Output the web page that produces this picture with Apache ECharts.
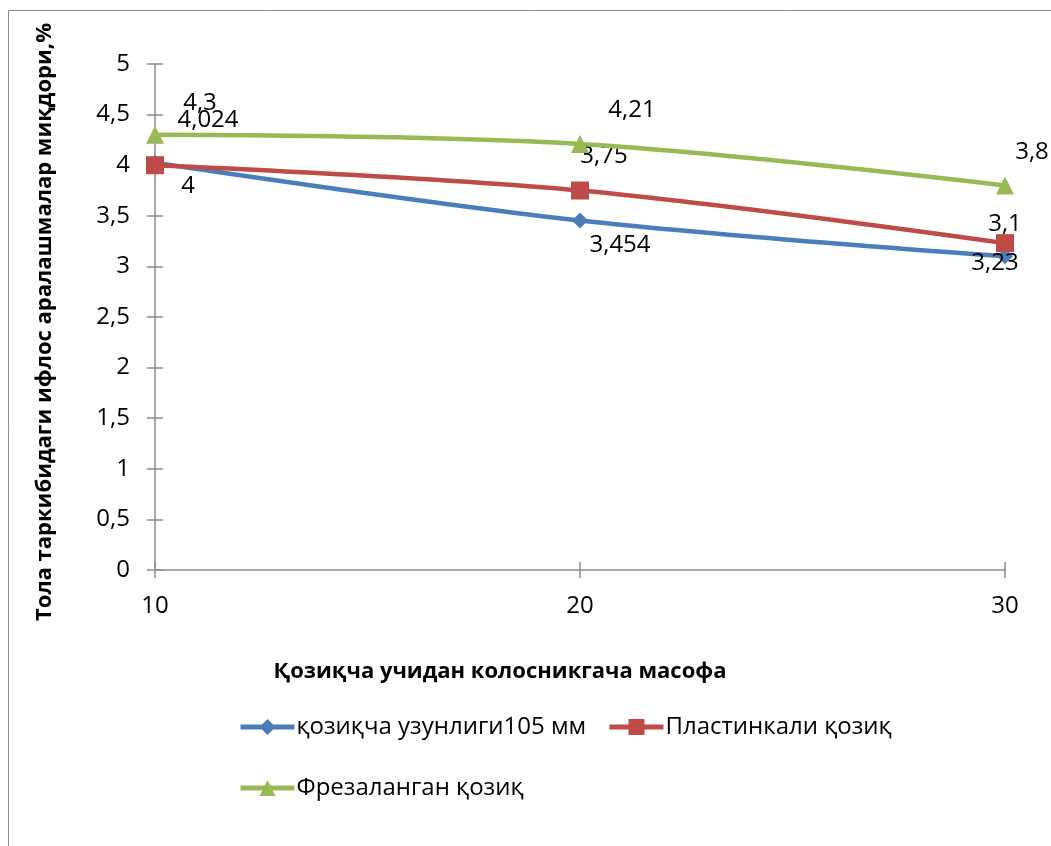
<!DOCTYPE html>
<html><head><meta charset="utf-8">
<script src="https://cdn.jsdelivr.net/npm/echarts@6/dist/echarts.min.js"></script>
<style>html,body{margin:0;padding:0;background:#fff}#c{width:1051px;height:846px}</style>
</head><body><div id="c"></div>
<script>
const xValues = [10, 20, 30];
const seriesNames = ['қозиқча узунлиги105 мм', 'Пластинкали қозиқ', 'Фрезаланган қозиқ'];
const blueVals = [4.024, 3.454, 3.1];
const redVals = [4, 3.75, 3.23];
const greenVals = [4.3, 4.21, 3.8];
const xTitle = 'Қозиқча учидан колосникгача масофа';
const yTitle = 'Тола таркибидаги ифлос аралашмалар миқдори,%';

const FONT = '"Open Sans", "Liberation Sans", sans-serif';
const colors = ['#4A7EBB', '#BE4B48', '#98B954'];
const symbols = ['diamond', 'rect', 'triangle'];
const symbolSizes = [16, 18, 18];
// label offsets relative to the point (manually placed in the source chart)
const labelOffsets = [
  [[53, -43], [40, 25], [0, -32]],
  [[33, 21], [24, -34], [-10, 20]],
  [[45, -32], [52, -34], [27, -33]]
];
const allVals = [blueVals, redVals, greenVals];
const fmt = v => String(v).replace('.', ',');

const series = allVals.map((vals, si) => ({
  name: seriesNames[si],
  type: 'line',
  smooth: 0.35,
  data: vals.map((v, i) => ({
    value: [xValues[i], v],
    label: {offset: labelOffsets[si][i]}
  })),
  symbol: symbols[si],
  symbolSize: symbolSizes[si],
  lineStyle: {width: 4.5, color: colors[si]},
  itemStyle: {color: colors[si]},
  label: {
    show: true, position: 'inside', color: '#000', fontSize: 24, fontFamily: FONT,
    formatter: p => fmt(p.value[1])
  },
  z: 3 + si
}));

const chart = echarts.init(document.getElementById('c'));
const legendBase = {
  orient: 'horizontal', itemWidth: 54, itemHeight: 20, itemGap: 10, padding: 0,
  lineStyle: {width: 5},
  textStyle: {fontSize: 24, fontFamily: FONT, color: '#000', padding: [0, 0, 0, -3]}
};
chart.setOption({
  backgroundColor: '#fff',
  animation: false,
  grid: {left: 155, right: 46, top: 64, bottom: 276, containLabel: false},
  legend: [
    Object.assign({}, legendBase, {left: 238, top: 715, data: [seriesNames[0]]}),
    Object.assign({}, legendBase, {left: 607, top: 715, data: [seriesNames[1]]}),
    Object.assign({}, legendBase, {left: 238, top: 776, data: [seriesNames[2]]})
  ],
  xAxis: [{
    type: 'value', min: 10, max: 30, interval: 10,
    axisLine: {show: true, lineStyle: {color: '#8c8c8c', width: 1.5}},
    axisTick: {show: true, length: 8, lineStyle: {color: '#8c8c8c', width: 1.5}},
    axisLabel: {fontSize: 24, fontFamily: FONT, color: '#000', margin: 24},
    splitLine: {show: false}
  }, {
    type: 'value', min: 10, max: 30, interval: 10, position: 'bottom',
    axisLine: {show: false},
    axisTick: {show: true, inside: true, length: 8, lineStyle: {color: '#8c8c8c', width: 1.5}},
    axisLabel: {show: false}, splitLine: {show: false}
  }],
  yAxis: [{
    type: 'value', min: 0, max: 5, interval: 0.5,
    axisLine: {show: true, lineStyle: {color: '#8c8c8c', width: 1.5}},
    axisTick: {show: true, length: 8, lineStyle: {color: '#8c8c8c', width: 1.5}},
    axisLabel: {fontSize: 24, fontFamily: FONT, color: '#000', margin: 25, formatter: v => fmt(v)},
    splitLine: {show: false}
  }, {
    type: 'value', min: 0, max: 5, interval: 0.5, position: 'left',
    axisLine: {show: false},
    axisTick: {show: true, inside: true, length: 8, lineStyle: {color: '#8c8c8c', width: 1.5}},
    axisLabel: {show: false}, splitLine: {show: false}
  }],
  graphic: [
    {type: 'rect', shape: {x: 8.5, y: 10.5, width: 1200, height: 1000}, style: {fill: 'none', stroke: '#8c8c8c', lineWidth: 1}, silent: true, z: -1},
    {type: 'text', x: 500, y: 672, style: {text: xTitle, fontSize: 22, fontWeight: 'bold', fontFamily: FONT, fill: '#000', textAlign: 'center', textVerticalAlign: 'middle'}},
    {type: 'text', x: 45, y: 322, rotation: Math.PI / 2, style: {text: yTitle, fontSize: 22, fontWeight: 'bold', fontFamily: FONT, fill: '#000', textAlign: 'center', textVerticalAlign: 'middle'}}
  ],
  series: series
});
</script></body></html>
